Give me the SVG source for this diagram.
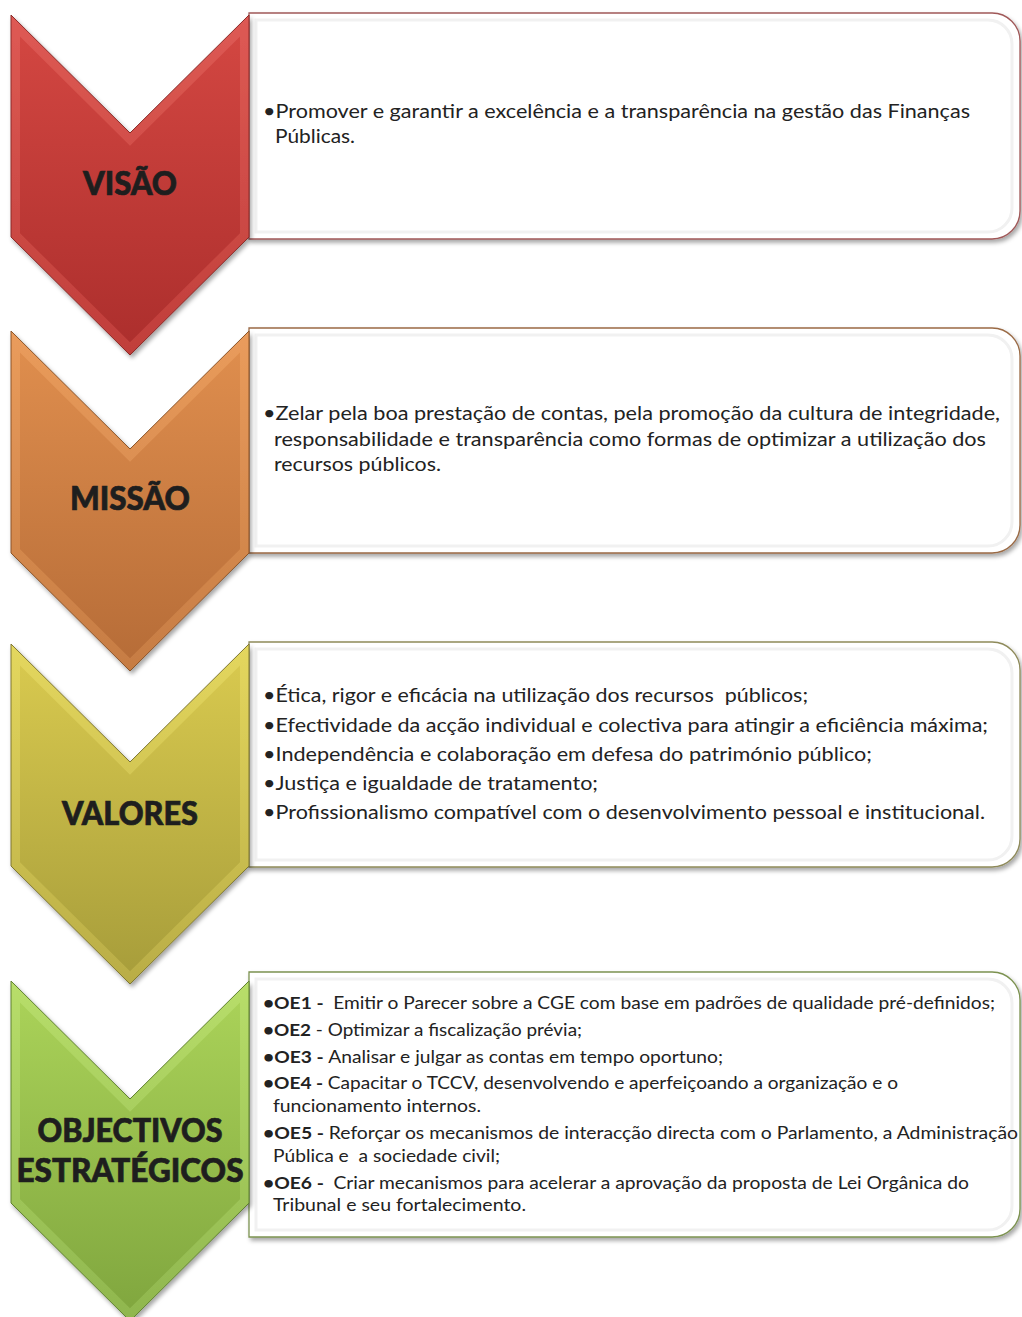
<svg xmlns="http://www.w3.org/2000/svg" width="1022" height="1317" viewBox="0 0 1022 1317">
<defs>
<style>
.lbl{font-family:Lato,"Open Sans","DejaVu Sans",sans-serif;font-weight:900;font-size:32px;fill:#1e1e1e;stroke:#1e1e1e;stroke-width:0.7px;text-anchor:middle}
.t{font-family:Lato,"Open Sans","DejaVu Sans",sans-serif;font-size:19.5px;fill:#222;white-space:pre}
.s{font-family:Lato,"Open Sans","DejaVu Sans",sans-serif;font-size:17.5px;fill:#222;white-space:pre}
.b{font-weight:700}
.box{fill:#fff}
.inner{fill:none;stroke:#f1f1f1;stroke-width:3}
</style>
<filter id="sh" x="-5%" y="-5%" width="112%" height="115%">
<feDropShadow dx="2" dy="3" stdDeviation="2" flood-color="#000" flood-opacity="0.35"/>
</filter>
<linearGradient id="rO" x1="0" y1="0" x2="0" y2="1"><stop offset="0" stop-color="#de5a54"/><stop offset="1" stop-color="#c03e3a"/></linearGradient>
<linearGradient id="rI" x1="0" y1="0" x2="0" y2="1"><stop offset="0" stop-color="#d24641"/><stop offset="1" stop-color="#ad2f2d"/></linearGradient>
<linearGradient id="oO" x1="0" y1="0" x2="0" y2="1"><stop offset="0" stop-color="#ea9c5c"/><stop offset="1" stop-color="#c67c43"/></linearGradient>
<linearGradient id="oI" x1="0" y1="0" x2="0" y2="1"><stop offset="0" stop-color="#de8d4d"/><stop offset="1" stop-color="#b76d38"/></linearGradient>
<linearGradient id="yO" x1="0" y1="0" x2="0" y2="1"><stop offset="0" stop-color="#e4d75e"/><stop offset="1" stop-color="#b9ad46"/></linearGradient>
<linearGradient id="yI" x1="0" y1="0" x2="0" y2="1"><stop offset="0" stop-color="#d7c84e"/><stop offset="1" stop-color="#a89e3b"/></linearGradient>
<linearGradient id="gO" x1="0" y1="0" x2="0" y2="1"><stop offset="0" stop-color="#b8de6a"/><stop offset="1" stop-color="#8fb64e"/></linearGradient>
<linearGradient id="gI" x1="0" y1="0" x2="0" y2="1"><stop offset="0" stop-color="#a9d158"/><stop offset="1" stop-color="#81a73f"/></linearGradient>
<polygon id="chevO" points="11,0 130,118 249,0 249,222 130,340 11,222"/>
<polygon id="chevI" points="20,21.6 130,130.7 240,21.6 240,218.2 130,327.3 20,218.2"/>
</defs>
<rect width="1022" height="1317" fill="#fff"/>

<g id="connectors"></g>

<g id="box-visao">
<path class="box" filter="url(#sh)" stroke="#a05858" stroke-width="1.3" d="M249,13 H992 A28,28 0 0 1 1020,41 V211 A28,28 0 0 1 992,239 H249 Z"/>
<path class="inner" d="M256,20 H988 A24,24 0 0 1 1012,44 V208 A24,24 0 0 1 988,232 H256 Z"/>
<text class="t" x="263" y="118" textLength="707" lengthAdjust="spacingAndGlyphs">•Promover e garantir a excelência e a transparência na gestão das Finanças</text>
<text class="t" x="275" y="143" textLength="80" lengthAdjust="spacingAndGlyphs">Públicas.</text>
</g>

<g id="box-missao">
<path class="box" filter="url(#sh)" stroke="#9a6a45" stroke-width="1.3" d="M249,328 H992 A28,28 0 0 1 1020,356 V525 A28,28 0 0 1 992,553 H249 Z"/>
<path class="inner" d="M256,335 H988 A24,24 0 0 1 1012,359 V522 A24,24 0 0 1 988,546 H256 Z"/>
<text class="t" x="263" y="420" textLength="737" lengthAdjust="spacingAndGlyphs">•Zelar pela boa prestação de contas, pela promoção da cultura de integridade,</text>
<text class="t" x="274" y="445.5" textLength="712" lengthAdjust="spacingAndGlyphs">responsabilidade e transparência como formas de optimizar a utilização dos</text>
<text class="t" x="274" y="471" textLength="167" lengthAdjust="spacingAndGlyphs">recursos públicos.</text>
</g>

<g id="box-valores">
<path class="box" filter="url(#sh)" stroke="#8e8a5a" stroke-width="1.3" d="M249,642 H992 A28,28 0 0 1 1020,670 V839 A28,28 0 0 1 992,867 H249 Z"/>
<path class="inner" d="M256,649 H988 A24,24 0 0 1 1012,673 V836 A24,24 0 0 1 988,860 H256 Z"/>
<text class="t" x="263" y="702" textLength="545" lengthAdjust="spacingAndGlyphs">•Ética, rigor e eficácia na utilização dos recursos  públicos;</text>
<text class="t" x="263" y="731.5" textLength="725" lengthAdjust="spacingAndGlyphs">•Efectividade da acção individual e colectiva para atingir a eficiência máxima;</text>
<text class="t" x="263" y="761" textLength="609" lengthAdjust="spacingAndGlyphs">•Independência e colaboração em defesa do património público;</text>
<text class="t" x="263" y="790" textLength="335" lengthAdjust="spacingAndGlyphs">•Justiça e igualdade de tratamento;</text>
<text class="t" x="263" y="819" textLength="722" lengthAdjust="spacingAndGlyphs">•Profissionalismo compatível com o desenvolvimento pessoal e institucional.</text>
</g>

<g id="box-objectivos">
<path class="box" filter="url(#sh)" stroke="#7c9250" stroke-width="1.3" d="M249,972 H992 A28,28 0 0 1 1020,1000 V1209 A28,28 0 0 1 992,1237 H249 Z"/>
<path class="inner" d="M256,979 H988 A24,24 0 0 1 1012,1003 V1206 A24,24 0 0 1 988,1230 H256 Z"/>
<text class="s" x="263" y="1009" textLength="732" lengthAdjust="spacingAndGlyphs"><tspan class="b">•OE1 - </tspan> Emitir o Parecer sobre a CGE com base em padrões de qualidade pré-definidos;</text>
<text class="s" x="263" y="1036" textLength="319" lengthAdjust="spacingAndGlyphs"><tspan class="b">•OE2</tspan> - Optimizar a fiscalização prévia;</text>
<text class="s" x="263" y="1063" textLength="460" lengthAdjust="spacingAndGlyphs"><tspan class="b">•OE3 - </tspan>Analisar e julgar as contas em tempo oportuno;</text>
<text class="s" x="263" y="1089" textLength="635" lengthAdjust="spacingAndGlyphs"><tspan class="b">•OE4 - </tspan>Capacitar o TCCV, desenvolvendo e aperfeiçoando a organização e o</text>
<text class="s" x="273" y="1112" textLength="208" lengthAdjust="spacingAndGlyphs">funcionamento internos.</text>
<text class="s" x="263" y="1139" textLength="755" lengthAdjust="spacingAndGlyphs"><tspan class="b">•OE5 - </tspan>Reforçar os mecanismos de interacção directa com o Parlamento, a Administração</text>
<text class="s" x="273" y="1162" textLength="227" lengthAdjust="spacingAndGlyphs">Pública e  a sociedade civil;</text>
<text class="s" x="263" y="1189" textLength="706" lengthAdjust="spacingAndGlyphs"><tspan class="b">•OE6 - </tspan> Criar mecanismos para acelerar a aprovação da proposta de Lei Orgânica do</text>
<text class="s" x="273" y="1211" textLength="253" lengthAdjust="spacingAndGlyphs">Tribunal e seu fortalecimento.</text>
</g>

<g id="chev-visao" transform="translate(0,15)">
<use href="#chevO" fill="url(#rO)" stroke="#8a2a28" stroke-width="1" filter="url(#sh)"/>
<use href="#chevI" fill="url(#rI)"/>
<text class="lbl" x="130" y="180" textLength="94" lengthAdjust="spacingAndGlyphs">VISÃO</text>
</g>

<g id="chev-missao" transform="translate(0,331)">
<use href="#chevO" fill="url(#oO)" stroke="#8a5328" stroke-width="1" filter="url(#sh)"/>
<use href="#chevI" fill="url(#oI)"/>
<text class="lbl" x="130" y="179" textLength="120" lengthAdjust="spacingAndGlyphs">MISSÃO</text>
</g>

<g id="chev-valores" transform="translate(0,644)">
<use href="#chevO" fill="url(#yO)" stroke="#7e7630" stroke-width="1" filter="url(#sh)"/>
<use href="#chevI" fill="url(#yI)"/>
<text class="lbl" x="130" y="181" textLength="136" lengthAdjust="spacingAndGlyphs">VALORES</text>
</g>

<g id="chev-objectivos" transform="translate(0,981)">
<use href="#chevO" fill="url(#gO)" stroke="#5f8030" stroke-width="1" filter="url(#sh)"/>
<use href="#chevI" fill="url(#gI)"/>
<text class="lbl" x="130" y="161" textLength="185" lengthAdjust="spacingAndGlyphs">OBJECTIVOS</text>
<text class="lbl" x="130" y="201" textLength="227" lengthAdjust="spacingAndGlyphs">ESTRATÉGICOS</text>
</g>
</svg>
